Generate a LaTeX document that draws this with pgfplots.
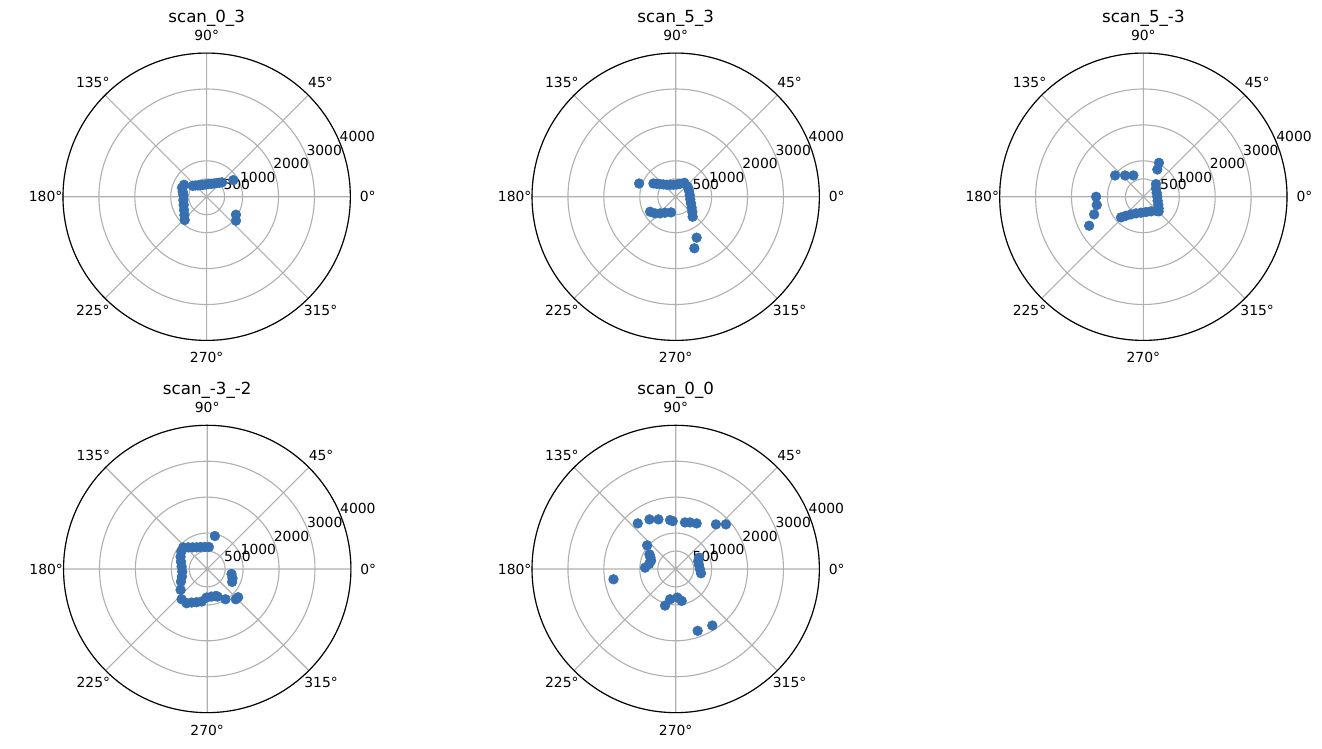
\documentclass[border=0pt]{standalone}
\usepackage{fontspec}
\setmainfont{DejaVu Sans}
\usepackage{pgfplots}
\pgfplotsset{compat=1.18}
\usepgfplotslibrary{polar}
\definecolor{c0}{RGB}{54,112,176}
\definecolor{gridc}{RGB}{176,176,176}
\pgfplotsset{
  scanax/.style={
    scale only axis, width=206.9pt, height=206.9pt, anchor=center,
    xmin=0, xmax=360, ymin=0, ymax=4000,
    xtick={0,45,...,315},
    xticklabels={0°,45°,90°,135°,180°,225°,270°,315°},
    ytick={500,1000,2000,3000,4000},
    yticklabels={},
    xmajorgrids, ymajorgrids,
    grid style={gridc, line width=0.8pt},
    major tick length=0pt,
    axis line style={black, line width=0.8pt},
    y axis line style={draw=none},
    xticklabel style={anchor=center, shift={(\tick:12.5pt)}, inner sep=0pt, font=\fontsize{10}{12}\selectfont},
    title style={at={(0.5,1)}, anchor=center, yshift=10.9pt, font=\fontsize{12}{14}\selectfont},
    clip=false,
  },
  scanpts/.style={data cs=cart, only marks, mark=*, mark size=3.5pt, color=c0, mark options={fill=c0, draw=none}},
}
\newcommand\rlabels{%
  \node[anchor=south west, inner sep=0pt, font=\fontsize{10}{12}\selectfont] at (axis cs:22.5,500) {500};
  \node[anchor=south west, inner sep=0pt, font=\fontsize{10}{12}\selectfont] at (axis cs:22.5,1000) {1000};
  \node[anchor=south west, inner sep=0pt, font=\fontsize{10}{12}\selectfont] at (axis cs:22.5,2000) {2000};
  \node[anchor=south west, inner sep=0pt, font=\fontsize{10}{12}\selectfont] at (axis cs:22.5,3000) {3000};
  \node[anchor=south west, inner sep=0pt, font=\fontsize{10}{12}\selectfont] at (axis cs:22.5,4000) {4000};
}
\begin{document}
\begin{tikzpicture}
\useasboundingbox (0,0) rectangle (951.84pt,538.56pt);

\begin{polaraxis}[scanax, at={(148.8pt,396.9pt)}, title={scan\_0\_3}]
\addplot[scanpts] coordinates {
(-389,305) (-315,315) (-241,315) (-167,324) (-93,333) (-19,343) (56,352) (130,361) (204,370) (278,380) (352,389) (426,400) (741,463)
(-630,333) (-685,250) (-667,139) (-648,46) (-648,-93) (-639,-231) (-630,-370) (-620,-509) (-611,-648)
(815,-500) (815,-667)
};
\rlabels
\end{polaraxis}

\begin{polaraxis}[scanax, at={(486.5pt,396.9pt)}, title={scan\_5\_3}]
\addplot[scanpts] coordinates {
(-1019,370)
(-620,370) (-528,361) (-435,352) (-343,343) (-250,333) (-157,333) (-65,333) (28,343) (120,361) (241,389)
(333,278) (370,167) (389,46) (407,-74) (426,-185) (444,-306) (463,-426) (472,-556)
(-713,-417) (-574,-463) (-435,-463) (-296,-444) (-130,-435)
(583,-1139) (519,-1435)
};
\rlabels
\end{polaraxis}

\begin{polaraxis}[scanax, at={(823.2pt,396.9pt)}, title={scan\_5\_-3}]
\addplot[scanpts] coordinates {
(435,944) (389,759)
(-787,593) (-509,593) (-278,593)
(352,352) (352,231) (370,111) (389,0) (398,-111) (417,-222) (426,-324) (426,-407)
(-620,-574) (-482,-528) (-343,-491) (-204,-463) (-65,-444) (74,-426) (213,-407) (352,-389)
(-1315,0) (-1296,-231) (-1370,-491) (-1509,-806)
};
\rlabels
\end{polaraxis}

\begin{polaraxis}[scanax, at={(149.2pt,128.9pt)}, title={scan\_-3\_-2}]
\addplot[scanpts] coordinates {
(213,917)
(-667,602) (-528,602) (-407,602) (-296,602) (-185,611) (-65,611) (46,611)
(-722,482) (-741,343) (-731,204) (-713,65) (-694,-74) (-704,-213) (-731,-352) (-741,-583)
(-713,-843) (-574,-954) (-435,-935) (-296,-926) (-157,-907) (-19,-796) (120,-769) (241,-750) (287,-769) (509,-843) (796,-843) (861,-787)
(676,-139) (704,-259) (694,-361)
};
\rlabels
\end{polaraxis}

\begin{polaraxis}[scanax, at={(486.5pt,128.9pt)}, title={scan\_0\_0}]
\addplot[scanpts] coordinates {
(-1056,1269) (-731,1380) (-481,1380) (-157,1361) (-83,1333) (259,1296) (398,1296) (583,1269) (1120,1241) (1398,1241)
(-796,657) (-731,407) (-704,324) (-685,231) (-741,139) (-852,37)
(-1732,-287)
(648,315) (630,204) (648,111) (676,-9) (704,-120)
(-296,-1019) (-157,-843) (46,-796) (167,-889)
(611,-1722) (1019,-1574)
};
\rlabels
\end{polaraxis}
\end{tikzpicture}
\end{document}
